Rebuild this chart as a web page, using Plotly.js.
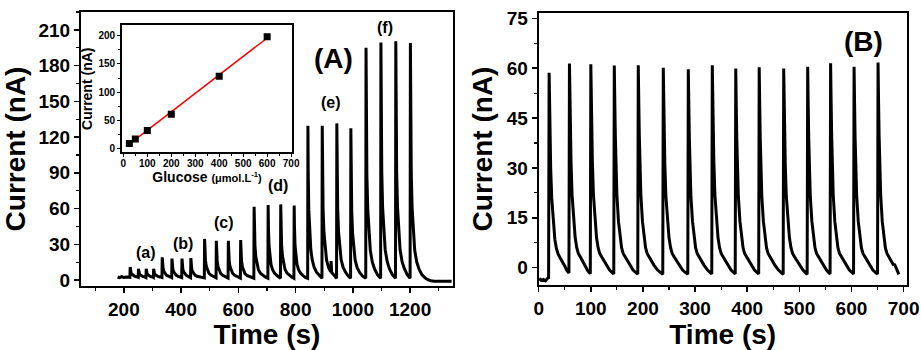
<!DOCTYPE html>
<html>
<head>
<meta charset="utf-8">
<script src="https://cdn.plot.ly/plotly-3.0.1.min.js"></script>
<style>html,body{margin:0;padding:0;background:#fff;}#chart{width:921px;height:350px;}</style>
</head>
<body>
<div id="chart"></div>
<script>
// Panel A: amperometric response, time (s) and current (nA)
const timeA = [178,185,192,200,208,215,221,
222,223,225,228,232,237,244,250,
251,252,254,257,261,266,273,277,
278,279,281,284,288,293,300,303,
304,305,307,310,314,319,326,333,
334,335,337,340,344,349,356,364,367,
368,369,371,374,378,383,390,398,402,
403,404,406,409,413,418,425,433,
434,435,437,440,444,449,456,464,475,481,
482,483,485,488,492,497,504,512,522,
523,524,526,529,533,538,545,553,564,
565,566,568,571,575,580,587,595,607,
608,609,611,614,618,623,630,638,648,654,
655,656,658,661,665,670,677,685,695,703,
704,705,707,710,714,719,726,734,742,747,
748,749,751,754,758,763,770,778,787,794,
795,796,798,801,805,810,817,825,834,842,
843,844,846,849,853,858,865,873,883,892,
893,894,896,899,903,908,915,922,924,926,933,943,
944,945,947,950,954,959,966,974,984,992,
993,994,996,999,1003,1008,1015,1023,1034,1045,
1046,1047,1049,1052,1056,1061,1068,1076,1086,1097,
1098,1099,1101,1104,1108,1113,1120,1128,1138,1149,
1150,1151,1153,1156,1160,1165,1172,1180,1190,1200,
1201,1202,1204,1207,1211,1216,1223,1231,1241,1252,1262,1272,1285,1300,1320,1345];
const currentA = [2.5,2.0,2.8,2.2,2.6,2.2,2.3,
11,8.4,6.2,4.8,3.9,3.3,2.8,2.2,
9.5,7.3,5.4,4.3,3.5,3.0,2.6,2.1,
9.5,7.3,5.4,4.3,3.5,3.0,2.5,2.1,
9.5,7.3,5.4,4.3,3.5,3.0,2.6,2.1,
19,13.9,9.7,7.1,5.2,4.0,3.2,2.5,2.0,
18,13.2,9.2,6.8,5.0,3.9,3.1,2.6,2.0,
18,13.2,9.2,6.8,5.0,3.9,3.1,2.0,
18.5,13.6,9.4,7.0,5.1,4.0,3.2,2.7,2.0,1.8,
34.5,24.7,16.5,11.6,8.0,5.7,4.1,3.1,1.8,
33,23.6,15.8,11.2,7.7,5.5,4.0,3.0,1.7,
33,23.6,15.8,11.2,7.7,5.5,4.0,3.0,1.6,
33.5,23.8,16.0,11.2,7.7,5.4,3.8,2.9,2.0,1.5,
61.5,43.5,28.5,19.5,12.9,8.7,5.7,3.9,2.4,1.5,
63,44.6,29.2,20.0,13.2,8.9,5.8,4.0,2.3,1.5,
63.5,44.9,29.4,20.1,13.3,8.9,5.8,4.0,2.4,1.5,
62.5,44.2,29.0,19.8,13.1,8.8,5.8,3.9,2.2,1.5,
129.5,91.1,59.1,39.9,25.8,16.9,10.5,6.6,3.5,1.5,
129.5,91.1,59.1,39.9,25.8,16.9,10.5,7.0,16,6.2,4.5,1.5,
131.5,92.5,60.0,40.5,26.2,17.1,10.6,6.7,3.3,1.5,
127.5,89.7,58.2,39.3,25.4,16.6,10.3,6.5,3.2,1.5,
195,137,88.6,59.6,38.3,24.7,15.0,9.2,4.5,1.5,
199.5,140.1,90.6,60.9,39.1,25.3,15.4,9.4,4.5,1.5,
200.5,140.8,91.1,61.2,39.3,25.4,15.4,9.5,4.5,1.5,
199,139.7,90.4,60.8,39.1,25.2,15.3,9.3,4.5,1.8,0.3,-0.6,-1.0,-1.2,-1.0,-1.1];

// Panel B: repeated injections
const timeB = [1,5,9,13,17,19,
20,21,22,23,25,28,31,34,37,41,45,50,54,58,
59,60,61,62,64,67,70,73,76,80,84,89,94,99,
100,101,102,103,105,108,111,114,117,121,125,130,136,144,
145,146,147,148,150,153,156,159,162,166,170,175,181,190,
191,192,193,194,196,199,202,205,208,212,216,221,228,238,
239,240,241,242,244,247,250,253,256,260,264,269,276,286,
287,288,289,290,292,295,298,301,304,308,312,317,324,332,
333,334,335,336,338,341,344,347,350,354,358,363,369,377,
378,379,380,381,383,386,389,392,395,399,403,408,414,422,
423,424,425,426,428,431,434,437,440,444,448,453,460,469,
470,471,472,473,475,478,481,484,487,491,495,500,507,515,
516,517,518,519,521,524,527,530,533,537,541,546,552,559,
560,561,562,563,565,568,571,574,577,581,585,590,596,604,
605,606,607,608,610,613,616,619,622,626,630,635,641,650,
651,652,653,654,656,659,662,665,668,672,676,680,683,685,688,691];
const currentB = [-3.2,-3.8,-3.5,-3.9,-3.2,-3.0,
58.6,48,38,30,21,13.5,8.5,5.8,4.2,3.0,2.0,0.5,-0.8,-1.6,
61.4,50,40,32,22,14,9,6,4.3,3.2,2.2,0.6,-0.9,-1.8,
61.2,50,40,32,22,14,9,6,4.3,3.2,2.2,0.8,-0.7,-1.9,
60.8,50,40,32,22,14,9,6,4.3,3.2,2.2,0.8,-0.7,-1.9,
60.9,50,40,32,22,14,9,6,4.3,3.2,2.2,0.8,-0.7,-2.0,
60.1,49,39,31,21.5,14,9,6,4.3,3.2,2.2,0.8,-0.7,-2.0,
59.7,49,39,31,21.5,14,9,6,4.3,3.2,2.2,0.8,-0.7,-1.9,
60.9,50,40,32,22,14,9,6,4.3,3.2,2.2,0.8,-0.7,-1.9,
59.9,49,39,31,21.5,14,9,6,4.3,3.2,2.2,0.8,-0.7,-1.9,
60.3,49,39,31,21.5,14,9,6,4.3,3.2,2.2,0.8,-0.7,-2.0,
59.9,49,39,31,21.5,14,9,6,4.3,3.2,2.2,0.8,-0.7,-2.0,
60.4,49,39,31,21.5,14,9,6,4.3,3.2,2.2,0.8,-0.7,-1.9,
61.5,50,40,32,22,14,9,6,4.3,3.2,2.2,0.8,-0.7,-1.9,
60.4,49,39,31,21.5,14,9,6,4.3,3.2,2.2,0.8,-0.7,-1.9,
61.7,50,40,32,22,14,9,6,4.3,3.2,2.2,1.0,0.9,0.2,-1.2,-2.0];

// Inset: calibration
const glucose = [25, 50, 100, 200, 400, 600];
const insetCurrent = [9, 17, 32, 61, 128, 198];
const fitX = [25, 600];
const fitY = [7.8, 196];

// Labels
const groupLabels = ['(a)','(b)','(c)','(d)','(e)','(f)'];
const groupLabelX = [276, 406, 550, 737, 923, 1113];
const groupLabelY = [23.3, 30.8, 48.1, 79, 149, 212.3];

const FONT = 'Liberation Sans, Arial, Helvetica, sans-serif';

const traces = [
  {x: timeA, y: currentA, xaxis: 'x', yaxis: 'y', type: 'scatter', mode: 'lines',
   line: {color: '#000', width: 3}, hoverinfo: 'skip'},
  {x: timeB, y: currentB, xaxis: 'x2', yaxis: 'y2', type: 'scatter', mode: 'lines',
   line: {color: '#000', width: 3}, hoverinfo: 'skip'},
  {x: fitX, y: fitY, xaxis: 'x3', yaxis: 'y3', type: 'scatter', mode: 'lines',
   line: {color: '#ff0000', width: 1.5}, hoverinfo: 'skip'},
  {x: glucose, y: insetCurrent, xaxis: 'x3', yaxis: 'y3', type: 'scatter', mode: 'markers',
   marker: {symbol: 'square', size: 7, color: '#000'}, hoverinfo: 'skip'}
];

function ax(extra) {
  return Object.assign({
    showline: true, linecolor: '#000', linewidth: 2, mirror: true,
    showgrid: false, zeroline: false,
    ticks: 'outside', ticklen: 5, tickwidth: 1.5, tickcolor: '#000',
    tickfont: {family: FONT, size: 19, color: '#000', weight: 'bold'},
    minor: {ticks: 'outside', ticklen: 3, tickwidth: 1.2, tickcolor: '#000', showgrid: false}
  }, extra);
}
const titleFont = {family: FONT, size: 28, color: '#000', weight: 'bold'};

const annotations = groupLabels.map((t, i) => ({
  x: groupLabelX[i], y: groupLabelY[i], xref: 'x', yref: 'y', text: t, showarrow: false,
  font: {family: FONT, size: 16, color: '#000', weight: 'bold'}
}));
annotations.push({x: 932, y: 186.3, xref: 'x', yref: 'y', text: '(A)', showarrow: false,
  font: {family: FONT, size: 28, color: '#000', weight: 'bold'}});
annotations.push({x: 623, y: 67.9, xref: 'x2', yref: 'y2', text: '(B)', showarrow: false,
  font: {family: FONT, size: 28, color: '#000', weight: 'bold'}});

const layout = {
  width: 921, height: 350,
  margin: {l: 0, r: 0, t: 0, b: 0},
  paper_bgcolor: '#fff', plot_bgcolor: '#fff',
  showlegend: false,
  xaxis: ax({domain: [0.0879, 0.4919], range: [50, 1350], tick0: 0, dtick: 200,
    minor: {ticks: 'outside', ticklen: 3, tickwidth: 1.2, tickcolor: '#000', dtick: 100, tick0: 0},
    anchor: 'y', title: {text: 'Time (s)', font: titleFont, standoff: 6}}),
  yaxis: ax({domain: [0.1829, 0.9657], range: [-5, 225], tick0: 0, dtick: 30,
    minor: {ticks: 'outside', ticklen: 3, tickwidth: 1.2, tickcolor: '#000', dtick: 15, tick0: 0},
    anchor: 'x', title: {text: 'Current (nA)', font: titleFont, standoff: 6}}),
  xaxis2: ax({domain: [0.5849, 0.9845], range: [0, 706], tick0: 0, dtick: 100,
    minor: {ticks: 'outside', ticklen: 3, tickwidth: 1.2, tickcolor: '#000', dtick: 50, tick0: 0},
    anchor: 'y2', title: {text: 'Time (s)', font: titleFont, standoff: 4}}),
  yaxis2: ax({domain: [0.1857, 0.9629], range: [-5.2, 76.6], tick0: 0, dtick: 15,
    minor: {ticks: 'outside', ticklen: 3, tickwidth: 1.2, tickcolor: '#000', dtick: 7.5, tick0: 0},
    anchor: 'x2', title: {text: 'Current (nA)', font: titleFont, standoff: 6}}),
  xaxis3: ax({domain: [0.1321, 0.3174], range: [-7, 705], tick0: 0, dtick: 100, linewidth: 1.5,
    ticklen: 3, tickwidth: 1, ticklabelstandoff: -2,
    tickfont: {family: FONT, size: 10, color: '#000', weight: 'bold'},
    minor: {ticks: 'outside', ticklen: 2, tickwidth: 1, tickcolor: '#000', dtick: 50, tick0: 0},
    anchor: 'y3',
    title: {text: 'Glucose <span style="font-size:11px">(μmol.L<sup>-1</sup>)</span>',
      font: {family: FONT, size: 14, color: '#000', weight: 'bold'}, standoff: 0}}),
  yaxis3: ax({domain: [0.5643, 0.9286], range: [-7, 219], tick0: 0, dtick: 50, linewidth: 1.5,
    ticklen: 3, tickwidth: 1,
    tickfont: {family: FONT, size: 10, color: '#000', weight: 'bold'},
    minor: {ticks: 'outside', ticklen: 2, tickwidth: 1, tickcolor: '#000', dtick: 25, tick0: 0},
    anchor: 'x3',
    title: {text: 'Current (nA)', font: {family: FONT, size: 14, color: '#000', weight: 'bold'}, standoff: 2}}),
  annotations: annotations
};

Plotly.newPlot('chart', traces, layout, {staticPlot: true, displayModeBar: false});
</script>
</body>
</html>
